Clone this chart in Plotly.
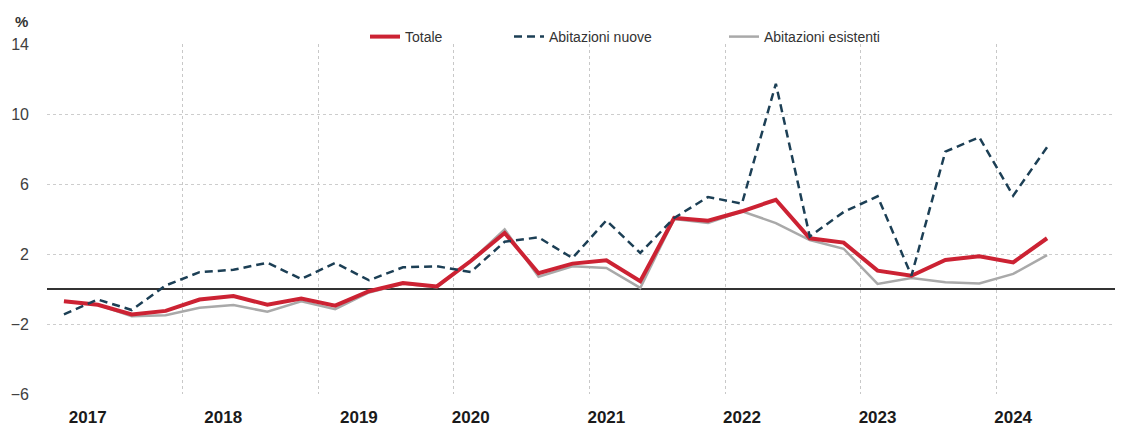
import plotly.graph_objects as go

# Quarterly data 2017Q1 - 2024Q2 (% change)
quarters = [f"{y}Q{q}" for y in range(2017, 2025) for q in range(1, 5)][:30]
totale = [-0.7, -0.9, -1.45, -1.25, -0.6, -0.4, -0.9, -0.55,
          -0.95, -0.13, 0.34, 0.15, 1.6, 3.2, 0.9, 1.45,
          1.64, 0.44, 4.06, 3.9, 4.44, 5.1, 2.9, 2.65,
          1.05, 0.76, 1.66, 1.87, 1.52, 2.9]
nuove = [-1.45, -0.6, -1.2, 0.2, 0.96, 1.1, 1.5, 0.57,
         1.49, 0.5, 1.24, 1.3, 0.97, 2.7, 2.95, 1.77,
         3.92, 2.06, 4.06, 5.26, 4.88, 11.73, 3.0, 4.4,
         5.3, 0.76, 7.85, 8.67, 5.33, 8.1]
esistenti = [-0.7, -0.9, -1.55, -1.5, -1.07, -0.92, -1.3, -0.7,
             -1.15, -0.2, 0.3, 0.1, 1.6, 3.4, 0.7, 1.3,
             1.2, 0.06, 4.0, 3.77, 4.44, 3.77, 2.8, 2.3,
             0.29, 0.63, 0.38, 0.32, 0.86, 1.94]

year_labels = ["2017", "2018", "2019", "2020", "2021", "2022", "2023", "2024"]
year_label_pos = [0.7, 4.7, 8.7, 12, 16, 20, 24, 28]
year_bounds = [-0.5, 3.5, 7.5, 11.5, 15.5, 19.5, 23.5, 27.5]
y_ticks = [-6, -2, 2, 6, 10, 14]

x = list(range(len(quarters)))
FONT = "Liberation Sans, Arial, sans-serif"

fig = go.Figure()
fig.add_trace(go.Scatter(x=x, y=esistenti, mode="lines", name="Abitazioni esistenti",
                         line=dict(color="#a9a9a9", width=2.5), legend="legend3",
                         text=quarters))
fig.add_trace(go.Scatter(x=x, y=totale, mode="lines", name="Totale",
                         line=dict(color="#cc2233", width=4), legend="legend",
                         text=quarters))
fig.add_trace(go.Scatter(x=x, y=nuove, mode="lines", name="Abitazioni nuove",
                         line=dict(color="#1c3f55", width=2.5, dash="8px,5px"), legend="legend2",
                         text=quarters))

W, H = 1115, 418  # page body adds an 8px offset in the browser


def leg(px):
    return dict(orientation="h", xref="container", yref="container",
                x=px / W, xanchor="left", y=1 - 29 / H, yanchor="middle",
                font=dict(size=14, family=FONT, color="#333333"),
                bgcolor="rgba(0,0,0,0)")


xr = [-0.5, 31.24]
fig.update_layout(
    width=W, height=H,
    margin=dict(l=39, r=0, t=36, b=32, autoexpand=False),
    paper_bgcolor="white", plot_bgcolor="white",
    font=dict(family=FONT, color="#333333"),
    showlegend=True,
    legend=leg(357),
    legend2=leg(501),
    legend3=leg(716),
    xaxis=dict(range=xr, tickmode="array", tickvals=year_label_pos, ticktext=year_labels,
               showgrid=False, zeroline=False, showline=False, ticks="", automargin=False,
               tickfont=dict(size=17, family=FONT, color="#1a1a1a", weight="bold"),
               ticklabelstandoff=11,
               minor=dict(tickmode="array", tickvals=year_bounds, showgrid=True,
                          gridcolor="#c8c8c8", griddash="dot", gridwidth=1, ticks="")),
    yaxis=dict(range=[-6, 14], tickmode="array", tickvals=y_ticks, automargin=False,
               showgrid=True, gridcolor="#cdcdcd", griddash="dot", gridwidth=1,
               zeroline=True, zerolinecolor="#333333", zerolinewidth=1.6,
               showline=False, ticks="", ticklabelstandoff=17,
               tickfont=dict(size=16, family=FONT, color="#404040")),
    annotations=[dict(text="<b>%</b>", xref="paper", yref="paper", x=-0.016, y=1.065,
                      xanchor="right", yanchor="middle", showarrow=False,
                      font=dict(size=15, family=FONT, color="#333333"))],
)
fig.write_html("out.html")
